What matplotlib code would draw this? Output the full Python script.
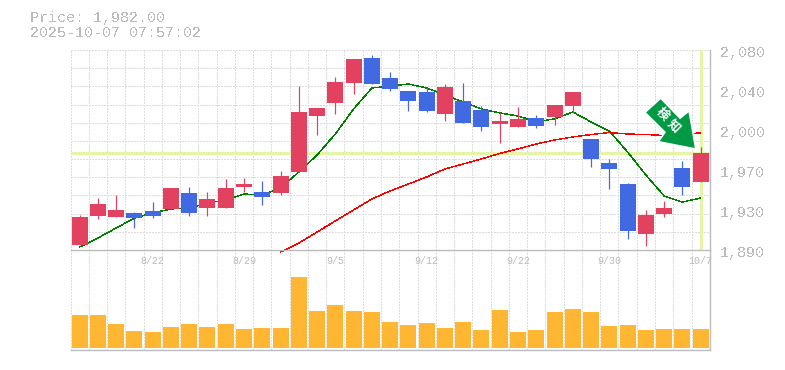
import numpy as np
import matplotlib
matplotlib.use('Agg')
import matplotlib.pyplot as plt
from matplotlib.patches import Polygon
from matplotlib.transforms import IdentityTransform

opens = [1895, 1922, 1921, 1925, 1927, 1929, 1944, 1930, 1930, 1950, 1945, 1944,
         1964, 2017, 2030, 2049, 2072, 2053, 2041, 2040, 2019, 2032, 2023, 2010,
         2007, 2015, 2016, 2027, 1995, 1973, 1953, 1905, 1924, 1968, 1955]
closes = [1921, 1934, 1928, 1920, 1922, 1949, 1925, 1938, 1949, 1953, 1940, 1960,
          2021, 2025, 2050, 2071, 2048, 2043, 2032, 2022, 2045, 2011, 2007, 2013,
          2014, 2008, 2028, 2040, 1976, 1967, 1908, 1923, 1930, 1950, 1982]
highs = [1923, 1939, 1942, 1926, 1936, 1949, 1950, 1945, 1957, 1958, 1956, 1965,
         2046, 2025, 2054, 2071, 2075, 2059, 2041, 2045, 2048, 2049, 2027, 2020,
         2026, 2018, 2028, 2040, 1995, 1976, 1954, 1928, 1937, 1975, 1988]
lows = [1895, 1919, 1921, 1911, 1920, 1929, 1922, 1922, 1930, 1945, 1933, 1942,
        1964, 1999, 2019, 2038, 2048, 2041, 2022, 2021, 2013, 2011, 2003, 1992,
        2007, 2006, 2009, 2020, 1969, 1948, 1900, 1894, 1921, 1942, 1955]
ma_short = [1892.9, 1901.4, 1910.9, 1920.4, 1925.2, 1929.0, 1929.9, 1934.7, 1937.5,
            1943.2, 1942.3, 1948.9, 1964.1, 1980.3, 2000.2, 2024.0, 2043.9, 2045.8,
            2047.7, 2043.9, 2037.3, 2030.6, 2024.0, 2020.2, 2017.3, 2011.9, 2014.5,
            2021.1, 2011.6, 2003.1, 1983.1, 1961.3, 1941.3, 1935.6, 1939.4]
ma_long = [np.nan] * 11 + [1888.1, 1896.7, 1907.1, 1917.6, 1928.0, 1938.5, 1946.1,
                           1952.7, 1959.4, 1967.0, 1971.7, 1976.5, 1981.7, 1986.0,
                           1990.7, 1994.5, 1997.4, 1999.7, 2001.6, 2000.2, 1999.7,
                           1998.8, 2000.2, 2001.2]
volumes = [33, 33, 24, 17, 16, 21, 24, 21, 24, 19, 20, 20, 71, 37, 43, 37, 36, 26,
           23, 25, 20, 26, 18, 38, 16, 18, 36, 39, 36, 22, 23, 18, 19, 19, 19]
date_idx = [4, 9, 14, 19, 24, 29, 34]
date_labels = ['8/22', '8/29', '9/5', '9/12', '9/22', '9/30', '10/7']
price_ticks = [2080, 2042, 2004, 1966, 1928, 1890]
price_labels = ['2,080', '2,040', '2,000', '1,970', '1,930', '1,890']
last_price = 1982

W, H = 785, 370
RED = '#e24160'
BLUE = '#4169e1'
GRID = '#dcdcdc'
AXIS = '#bdbdbd'
TEXT = '#bbbbbb'
MONO = 'Liberation Mono'
px = 72 / 100


def axes_at(left, top, right, bottom):
    return fig.add_axes([left / W, 1 - bottom / H, (right - left) / W, (bottom - top) / H])


def setup(ax):
    ax.set_xlim(0, 35)
    ax.set_xticks(np.arange(36))
    ax.set_xticklabels([])
    ax.tick_params(length=0)
    ax.grid(axis='x', color=GRID, lw=px, ls=(0, (2, 1.5)), antialiased=False)
    ax.set_axisbelow(True)
    ax.patch.set_alpha(0)
    for side in ['left', 'top']:
        ax.spines[side].set_visible(False)
    for side in ['right', 'bottom']:
        ax.spines[side].set_color(AXIS)
        ax.spines[side].set_linewidth(1.4 * px)


fig = plt.figure(figsize=(W / 100, H / 100), dpi=100)
vol = axes_at(70.5, 250, 709.8, 350)
ax = axes_at(70.5, 50, 709.8, 250)
setup(vol)
setup(ax)

x = np.arange(35) + 0.5

# volume
vol.set_ylim(-2, 98)
vol.set_yticks([])
vol.bar(x, volumes, width=16 / 18.25, color='#ffb733', zorder=3)

# price panel
ax.set_ylim(1890, 2080)
ax.set_yticks(np.linspace(1890, 2080, 12))
ax.set_yticklabels([])
ax.grid(axis='y', color=GRID, lw=px, ls=(0, (2, 1.5)), antialiased=False)

ax.axhline(last_price, color='#e4f5a8', lw=3.2 * px, zorder=1.5)
ax.axvline(x[-1], color='#e4f5a8', lw=3.2 * px, zorder=1.5)

ax.plot(x, ma_short, color='#008000', lw=0.4 * px, zorder=2, clip_on=False, antialiased=False)
ax.plot(x, ma_long, color='#ff0000', lw=0.4 * px, zorder=2, clip_on=False, antialiased=False)

for i in range(35):
    c = RED if closes[i] > opens[i] else BLUE
    ax.vlines(x[i], lows[i], highs[i], color=c, lw=1.2 * px, zorder=3)
    ax.bar(x[i], abs(closes[i] - opens[i]), bottom=min(opens[i], closes[i]),
           width=16 / 18.25, color=c, zorder=3)

# signal arrow, given as pixel offsets from the tip above the last candle
tip = ax.transData.transform((x[-1] - 0.27, 1986))
arrow_x = [-50.7, -35, -15.7, -6.7, 0, -37.3, -30.7]
arrow_y = [36.5, 50.7, 30.7, 38, 0, 7.3, 16.7]
arrow = Polygon(np.column_stack([tip[0] + np.array(arrow_x), tip[1] + np.array(arrow_y)]),
                closed=True, facecolor='#009944', edgecolor='white', lw=1.5 * px,
                transform=IdentityTransform(), zorder=5, joinstyle='miter')
ax.add_patch(arrow)
for ch, dx, dy in [('検', -33.5, 35), ('知', -22, 22.5)]:
    fig.text((tip[0] + dx) / W, (tip[1] + dy) / H, ch, color='white', fontsize=9,
             fontweight='bold', family='Noto Sans CJK JP', rotation=-45,
             ha='center', va='center', zorder=6)

# labels
for t, lab in zip(price_ticks, price_labels):
    y_px = 50 + (2080 - t) / 0.95
    fig.text(720 / W, 1 - (y_px + 3) / H, lab, color=TEXT, fontsize=15 * px, family=MONO,
             ha='left', va='center', antialiased=False)
for i, lab in zip(date_idx, date_labels):
    fig.text((70.5 + x[i] * 18.265) / W, 1 - 261 / H, lab, color=TEXT, fontsize=10 * px,
             family=MONO, ha='center', va='center')

fig.text(30 / W, 1 - 18 / H, 'Price: 1,982.00', color=TEXT, fontsize=15 * px, family=MONO,
         ha='left', va='center', antialiased=False)
fig.text(30 / W, 1 - 33 / H, '2025-10-07 07:57:02', color=TEXT, fontsize=15 * px, family=MONO,
         ha='left', va='center', antialiased=False)

fig.savefig('out.png', dpi=100)
